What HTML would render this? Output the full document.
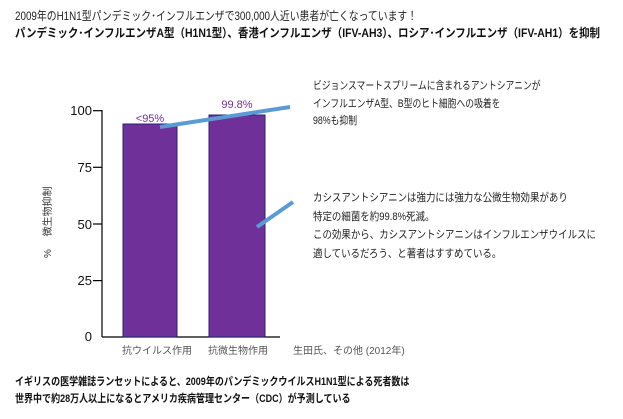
<!DOCTYPE html>
<html><head><meta charset="utf-8"><style>
body{margin:0;width:623px;height:419px;background:#fff;position:relative;overflow:hidden;font-family:"Liberation Sans","Noto Sans CJK JP",sans-serif;color:#222}
.t{position:absolute;white-space:nowrap;line-height:1;transform-origin:0 0}
</style></head><body>
<div class="t" style="left:15px;top:10px;font-size:12px;transform:scaleX(0.82)">2009年のH1N1型パンデミック･インフルエンザで300,000人近い患者が亡くなっています！</div>
<div class="t" style="left:15px;top:27px;font-size:12px;font-weight:bold;color:#111;transform:scaleX(0.872)">パンデミック･インフルエンザA型（H1N1型）、香港インフルエンザ（IFV-AH3）、ロシア･インフルエンザ（IFV-AH1）を抑制</div>

<svg width="623" height="419" style="position:absolute;left:0;top:0">
<g stroke="#000" stroke-width="1.2">
<line x1="102" y1="110" x2="102" y2="337"/>
<line x1="102" y1="337" x2="280" y2="337"/>
<line x1="93" y1="110.7" x2="102" y2="110.7"/>
<line x1="93" y1="167.3" x2="102" y2="167.3"/>
<line x1="93" y1="224" x2="102" y2="224"/>
<line x1="93" y1="280.6" x2="102" y2="280.6"/>
</g>
<rect x="123" y="124" width="54" height="213" fill="#70309a" stroke="#23236a" stroke-width="1"/>
<rect x="209" y="115" width="56" height="222" fill="#70309a" stroke="#23236a" stroke-width="1"/>
<g font-size="13" fill="#111" text-anchor="end" font-family="Liberation Sans, sans-serif">
<text x="92" y="115">100</text><text x="92" y="172">75</text><text x="92" y="229">50</text><text x="92" y="285">25</text><text x="92" y="341">0</text>
</g>
<g font-size="11" fill="#70309a" text-anchor="middle">
<text x="150" y="122">&lt;95%</text><text x="237" y="108">99.8%</text>
</g>
<line x1="160" y1="127" x2="290" y2="107" stroke="#5b9bd5" stroke-width="4"/>
<line x1="257" y1="227" x2="293" y2="202" stroke="#5b9bd5" stroke-width="4"/>
<g font-size="10" fill="#555">
<text x="122" y="354">抗ウイルス作用</text><text x="208" y="354">抗微生物作用</text><text x="293" y="354">生田氏、その他 (2012年)</text>
</g>
<text transform="translate(51,258) rotate(-90)" font-size="10" fill="#333">%　 微生物抑制</text>
</svg>

<div class="t" style="left:313px;top:78px;font-size:11px;line-height:17.5px;transform:scaleX(0.8)">ビジョンスマートスプリームに含まれるアントシアニンが<br>インフルエンザA型、B型のヒト細胞への吸着を<br>98%も抑制</div>
<div class="t" style="left:313px;top:189px;font-size:11px;line-height:18.5px;transform:scaleX(0.86)">カシスアントシアニンは強力には強力な公微生物効果があり<br>特定の細菌を約99.8%死滅。<br>この効果から、カシスアントシアニンはインフルエンザウイルスに<br>適しているだろう、と著者はすすめている。</div>
<div class="t" style="left:15px;top:374px;font-size:11px;font-weight:bold;line-height:17px;color:#111;transform:scaleX(0.82)">イギリスの医学雑誌ランセットによると、2009年のパンデミックウイルスH1N1型による死者数は<br>世界中で約28万人以上になるとアメリカ疾病管理センター（CDC）が予測している</div>
</body></html>
